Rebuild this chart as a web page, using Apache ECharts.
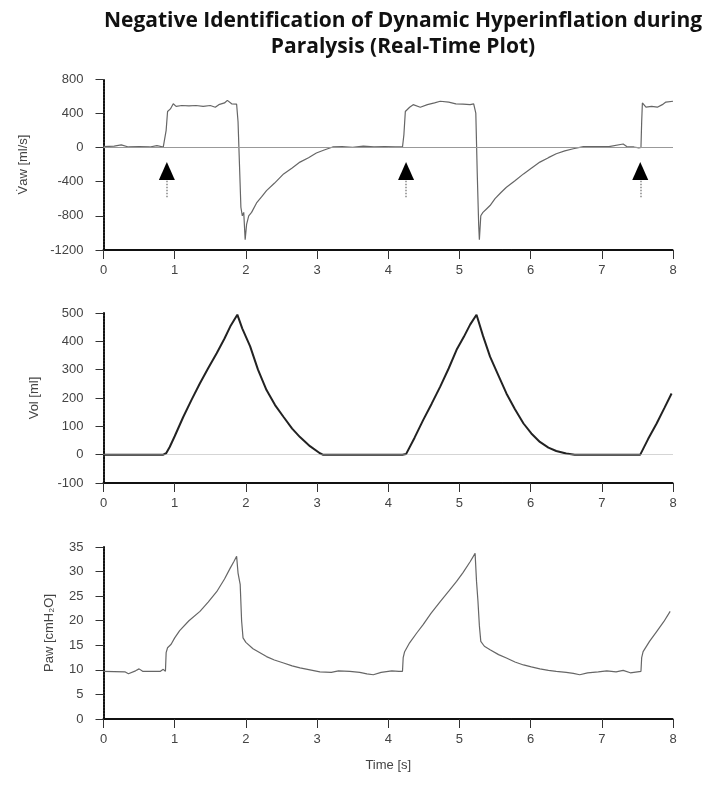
<!DOCTYPE html>
<html>
<head>
    <meta charset="utf-8">
    <title>Dynamic Hyperinflation</title>
    <script src="https://cdn.jsdelivr.net/npm/echarts@6/dist/echarts.min.js"></script>
    <style>
        html, body { margin: 0; padding: 0; background: #fff; }
    </style>
</head>
<body>
    <div id="chart" style="width: 709px;height: 786px;"></div>
</body>

<script>
    // time ticks (s)
    var timeTicks = [0, 1, 2, 3, 4, 5, 6, 7, 8];

    // airway flow V'aw [ml/s]
    var flowTime = [0, 0.15, 0.25, 0.35, 0.5, 0.65, 0.75, 0.84, 0.86, 0.88, 0.9, 0.94, 0.98, 1.02, 1.1, 1.2, 1.3, 1.4, 1.5, 1.57, 1.62, 1.7, 1.74, 1.8, 1.87,
        1.89, 1.91, 1.93, 1.95, 1.97, 1.99, 2.01, 2.04, 2.08, 2.15, 2.22, 2.29, 2.4, 2.53, 2.65, 2.76, 2.88, 2.99, 3.1, 3.22, 3.35, 3.5, 3.65, 3.8, 3.95, 4.1, 4.2,
        4.22, 4.24, 4.3, 4.35, 4.45, 4.55, 4.65, 4.73, 4.85, 4.95, 5.05, 5.15, 5.2, 5.23, 5.25, 5.27, 5.28, 5.3, 5.33, 5.38, 5.43, 5.5, 5.58, 5.66, 5.78, 5.9,
        6.0, 6.13, 6.25, 6.36, 6.48, 6.6, 6.74, 6.9, 7.1, 7.3, 7.35, 7.45, 7.52, 7.55, 7.56, 7.57, 7.62, 7.7, 7.78, 7.85, 7.9, 8.0];
    var flowVals = [10, 15, 30, 5, 10, 5, 20, 5, 20, 200, 420, 450, 510, 480, 490, 485, 490, 480, 490, 470, 500, 520, 550, 510, 505,
        300, -200, -700, -800, -760, -1080, -900, -800, -760, -650, -580, -505, -420, -310, -240, -172, -120, -66, -30, 5, 10, 0, 15, 5, 10, 5, 5,
        150, 420, 470, 500, 470, 500, 520, 540, 530, 510, 505, 500, 510, 400, -300, -900, -1080, -800, -760, -720, -680, -600, -530, -466, -390, -310,
        -250, -172, -120, -74, -40, -16, 10, 10, 10, 40, 10, 5, -5, 0, 300, 520, 470, 480, 470, 500, 530, 540];

    // volume [ml]
    var volTime = [0, 0.84, 0.88, 0.93, 1.0, 1.12, 1.24, 1.355, 1.47, 1.59, 1.7, 1.78, 1.88, 1.95, 2.06, 2.17, 2.29, 2.41, 2.53, 2.65, 2.76, 2.9, 3.04, 3.08,
        4.2, 4.25, 4.37, 4.49, 4.61, 4.73, 4.85, 4.96, 5.06, 5.15, 5.24, 5.33, 5.43, 5.55, 5.66, 5.78, 5.9, 6.01, 6.13, 6.25, 6.36, 6.5, 6.62,
        7.54, 7.65, 7.77, 7.88, 7.98];
    var volVals = [0, 0, 5, 27, 65, 133, 195, 252, 305, 358, 410, 452, 494, 445, 382, 300, 228, 175, 133, 92, 62, 30, 5, 0,
        0, 2, 60, 122, 180, 240, 305, 370, 415, 459, 494, 420, 346, 278, 216, 160, 110, 75, 45, 25, 13, 4, 0,
        0, 55, 110, 165, 216];

    // airway pressure [cmH2O]
    var pawTime = [0, 0.3, 0.35, 0.45, 0.5, 0.55, 0.8, 0.84, 0.87, 0.88, 0.9, 0.95, 1.0, 1.07, 1.2, 1.355, 1.47, 1.59, 1.7, 1.78, 1.83, 1.87,
        1.89, 1.92, 1.94, 1.96, 2.0, 2.1, 2.29, 2.4, 2.53, 2.65, 2.76, 2.9, 3.04, 3.2, 3.3, 3.46, 3.6, 3.7, 3.79, 3.9, 4.05, 4.15, 4.2,
        4.21, 4.23, 4.3, 4.4, 4.49, 4.6, 4.73, 4.85, 4.96, 5.05, 5.15, 5.22, 5.24, 5.26, 5.28, 5.3, 5.35, 5.43, 5.55, 5.66, 5.78, 5.9,
        6.01, 6.13, 6.25, 6.36, 6.5, 6.6, 6.69, 6.8, 6.95, 7.07, 7.2, 7.3, 7.4, 7.55, 7.56, 7.58, 7.67, 7.77, 7.87, 7.96];
    var pawVals = [9.7, 9.6, 9.2, 9.8, 10.2, 9.7, 9.7, 10.1, 9.7, 13.5, 14.5, 15.2, 16.5, 18, 20, 21.9, 23.8, 25.9, 28.5, 30.7, 32, 33.1,
        29.7, 27.4, 20, 16.5, 15.6, 14.3, 12.7, 12, 11.4, 10.8, 10.4, 10, 9.6, 9.5, 9.8, 9.7, 9.5, 9.2, 9.0, 9.5, 9.8, 9.7, 9.7,
        12.5, 13.7, 15.5, 17.5, 19.2, 21.5, 23.9, 26, 28, 29.8, 32, 33.7, 28, 24, 19, 15.8, 14.8, 14.1, 13.1, 12.4, 11.6, 11,
        10.6, 10.2, 9.9, 9.7, 9.5, 9.3, 9.0, 9.4, 9.6, 9.8, 9.6, 9.9, 9.4, 9.7, 12.5, 13.7, 15.8, 17.8, 19.8, 21.9];

    // trigger arrows (s)
    var arrowTimes = [0.89, 4.25, 7.54];

    function pairs(t, v) {
        return t.map(function(x, i) { return [x, v[i]]; });
    }

    var font = 'Liberation Sans, Arial, sans-serif';
    var axisLine = { show: true, onZero: false, lineStyle: { color: '#111', width: 2, type: [2, 1] } };

    function xAxisFor(idx, showName) {
        return {
            type: 'value', gridIndex: idx, min: 0, max: 8, interval: 1,
            name: showName ? 'Time [s]' : '', nameLocation: 'middle', nameGap: 40,
            nameTextStyle: { color: '#444', fontSize: 13, fontFamily: font },
            axisLine: axisLine,
            axisTick: { show: true, length: 9, lineStyle: { color: '#333' } },
            axisLabel: { color: '#444', fontSize: 13, fontFamily: font, margin: 14 },
            splitLine: { show: false }
        };
    }
    function yAxisFor(idx, name, min, max, step, gap) {
        return {
            type: 'value', gridIndex: idx, min: min, max: max, interval: step,
            name: name, nameLocation: 'middle', nameGap: gap,
            nameTextStyle: { color: '#444', fontSize: 13, fontFamily: font },
            axisLine: axisLine,
            axisTick: { show: true, length: 8, lineStyle: { color: '#333' } },
            axisLabel: { color: '#444', fontSize: 13, fontFamily: font, margin: 20,
                formatter: function(v) { return String(v); } },
            splitLine: { show: false }
        };
    }

    var option = {
        backgroundColor: '#fff',
        animation: false,
        title: {
            text: 'Negative Identification of Dynamic Hyperinflation during\nParalysis (Real-Time Plot)',
            left: 398, top: 3, textAlign: 'center',
            textStyle: { fontFamily: 'Open Sans, sans-serif', fontWeight: 'bold', fontSize: 21, lineHeight: 26, color: '#111' }
        },
        grid: [
            { left: 103.5, right: 36, top: 79, height: 171 },
            { left: 103.5, right: 36, top: 313, height: 170 },
            { left: 103.5, right: 36, top: 547, height: 172 }
        ],
        xAxis: [xAxisFor(0, false), xAxisFor(1, false), xAxisFor(2, true)],
        yAxis: [
            yAxisFor(0, 'V\u0307aw [ml/s]', -1200, 800, 400, 74),
            yAxisFor(1, 'Vol [ml]', -100, 500, 100, 63),
            yAxisFor(2, 'Paw [cmH\u2082O]', 0, 35, 5, 48)
        ],
        series: [
            {
                type: 'line', xAxisIndex: 0, yAxisIndex: 0, showSymbol: false,
                data: pairs(flowTime, flowVals),
                lineStyle: { color: '#666', width: 1.2 },
                markLine: {
                    silent: true, symbol: 'none', label: { show: false },
                    lineStyle: { color: '#999', type: 'solid', width: 1 },
                    data: [{ yAxis: 0 }].concat(arrowTimes.map(function(t) {
                        return [{ coord: [t, -390], lineStyle: { color: '#888', type: 'dotted', width: 1.5 } }, { coord: [t, -600] }];
                    }))
                },
                z: 3
            },
            {
                type: 'scatter', xAxisIndex: 0, yAxisIndex: 0,
                symbol: 'triangle', symbolSize: [16, 18],
                itemStyle: { color: '#000', opacity: 1 },
                data: arrowTimes.map(function(t) { return [t, -275]; }),
                z: 4
            },
            {
                type: 'line', xAxisIndex: 1, yAxisIndex: 1, showSymbol: false,
                data: pairs(volTime, volVals),
                lineStyle: { color: '#222', width: 2 },
                markLine: {
                    silent: true, symbol: 'none', label: { show: false },
                    lineStyle: { color: '#aaa', type: 'dotted', width: 1 },
                    data: [{ yAxis: 0 }]
                },
                z: 3
            },
            {
                type: 'line', xAxisIndex: 2, yAxisIndex: 2, showSymbol: false,
                data: pairs(pawTime, pawVals),
                lineStyle: { color: '#666', width: 1.2 },
                z: 3
            }
        ]
    };

    var myChart = echarts.init(document.getElementById('chart'));
    myChart.setOption(option);
</script>
</html>
